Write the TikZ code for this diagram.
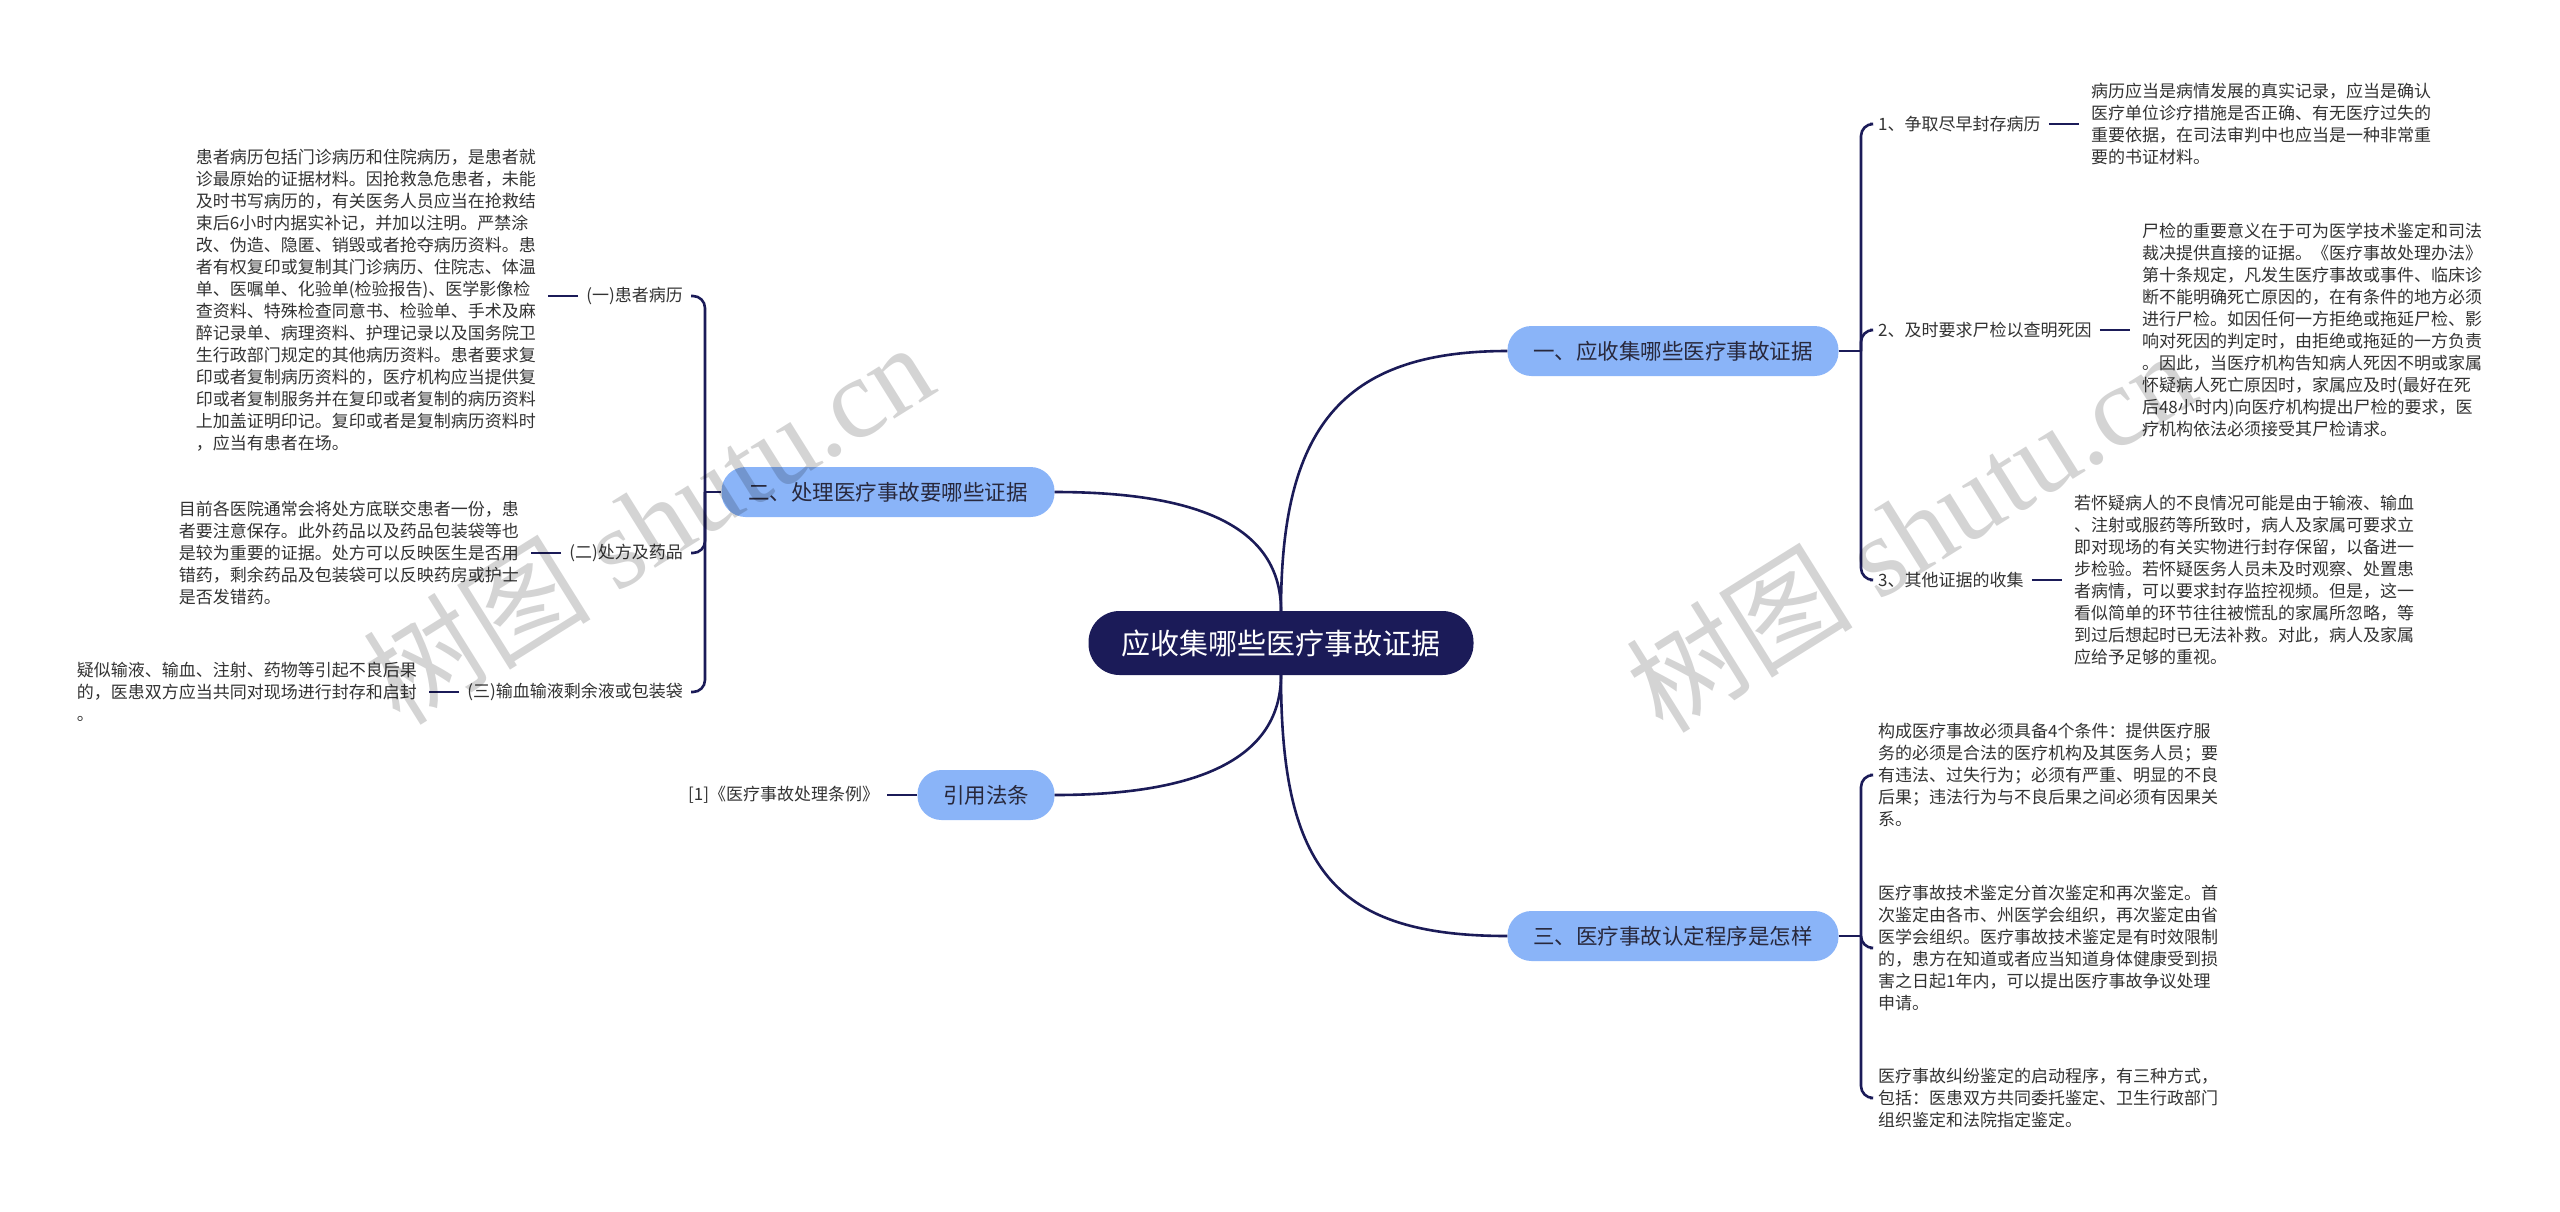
\documentclass[tikz,border=0pt]{standalone}
\usepackage{fontspec}
\setmainfont{Noto Sans CJK SC}
\newfontfamily\wmfont{Liberation Serif}
\definecolor{navy}{RGB}{27,27,88}
\definecolor{lblue}{RGB}{138,180,248}
\definecolor{txt}{RGB}{51,51,51}
\definecolor{btxt}{RGB}{40,40,60}
\tikzset{
 conn/.style={draw=navy, line width=2.6pt},
 rootbox/.style={rectangle, rounded corners=31pt, fill=navy, text=white, minimum width=385pt, minimum height=64pt, inner sep=0pt, font=\fontsize{29}{29}\selectfont},
 branchbox/.style={rectangle, rounded corners=24pt, fill=lblue, text=btxt, minimum height=50pt, inner sep=0pt, font=\fontsize{21.5}{21.5}\selectfont},
 lab/.style={inner xsep=8pt, inner ysep=2pt, text=txt, font=\fontsize{17}{22}\selectfont},
 blk/.style={align=left, inner xsep=12pt, inner ysep=2pt, text=txt, font=\fontsize{17}{22}\selectfont},
 wmark/.style={text=black, text opacity=0.17, rotate=32, font=\fontsize{114}{114}\selectfont},
}
\begin{document}
\begin{tikzpicture}[x=1pt,y=-1pt]
\useasboundingbox (0,0) rectangle (2560,1211);
\fill[white] (0,0) rectangle (2560,1211);

% root and branches
\node[rootbox] (root) at (1281,643) {应收集哪些医疗事故证据};
\node[branchbox, minimum width=331pt] (b1) at (1673,351) {一、应收集哪些医疗事故证据};
\node[branchbox, minimum width=333pt] (b2) at (888,492) {二、处理医疗事故要哪些证据};
\node[branchbox, minimum width=137pt] (b3) at (986,795) {引用法条};
\node[branchbox, minimum width=331pt] (b4) at (1673,936) {三、医疗事故认定程序是怎样};

\draw[conn] (root.north) .. controls (1281,430) and (1340,351) .. (b1.west);
\draw[conn] (root.north) .. controls (1281,525) and (1195,492) .. (b2.east);
\draw[conn] (root.south) .. controls (1281,765) and (1185,795) .. (b3.east);
\draw[conn] (root.south) .. controls (1281,870) and (1335,936) .. (b4.west);

% branch one (right, top)
\coordinate (s1) at (1861,351);
\node[lab, anchor=west] (l1) at (1870,124) {1、争取尽早封存病历};
\node[lab, anchor=west] (l2) at (1870,330) {2、及时要求尸检以查明死因};
\node[lab, anchor=west] (l3) at (1870,580) {3、其他证据的收集};
\node[blk, anchor=west] (t1) at ([xshift=30pt]l1.east) {病历应当是病情发展的真实记录，应当是确认\\医疗单位诊疗措施是否正确、有无医疗过失的\\重要依据，在司法审判中也应当是一种非常重\\要的书证材料。};
\node[blk, anchor=west] (t2) at ([xshift=30pt]l2.east) {尸检的重要意义在于可为医学技术鉴定和司法\\裁决提供直接的证据。《医疗事故处理办法》\\第十条规定，凡发生医疗事故或事件、临床诊\\断不能明确死亡原因的，在有条件的地方必须\\进行尸检。如因任何一方拒绝或拖延尸检、影\\响对死因的判定时，由拒绝或拖延的一方负责\\。因此，当医疗机构告知病人死因不明或家属\\怀疑病人死亡原因时，家属应及时(最好在死\\后48小时内)向医疗机构提出尸检的要求，医\\疗机构依法必须接受其尸检请求。};
\node[blk, anchor=west] (t3) at ([xshift=30pt]l3.east) {若怀疑病人的不良情况可能是由于输液、输血\\、注射或服药等所致时，病人及家属可要求立\\即对现场的有关实物进行封存保留，以备进一\\步检验。若怀疑医务人员未及时观察、处置患\\者病情，可以要求封存监控视频。但是，这一\\看似简单的环节往往被慌乱的家属所忽略，等\\到过后想起时已无法补救。对此，病人及家属\\应给予足够的重视。};
\draw[conn] (b1.east) -- (s1);
\draw[conn, rounded corners=12pt] (s1) |- (l1.west);
\draw[conn, rounded corners=12pt] (s1) |- (l2.west);
\draw[conn, rounded corners=12pt] (s1) |- (l3.west);
\draw[conn] (l1.east) -- (t1.west);
\draw[conn] (l2.east) -- (t2.west);
\draw[conn] (l3.east) -- (t3.west);

% branch three (right, bottom)
\coordinate (s4) at (1861,936);
\node[blk, anchor=west, inner xsep=8pt] (c1) at (1870,775) {构成医疗事故必须具备4个条件：提供医疗服\\务的必须是合法的医疗机构及其医务人员；要\\有违法、过失行为；必须有严重、明显的不良\\后果；违法行为与不良后果之间必须有因果关\\系。};
\node[blk, anchor=west, inner xsep=8pt] (c2) at (1870,948) {医疗事故技术鉴定分首次鉴定和再次鉴定。首\\次鉴定由各市、州医学会组织，再次鉴定由省\\医学会组织。医疗事故技术鉴定是有时效限制\\的，患方在知道或者应当知道身体健康受到损\\害之日起1年内，可以提出医疗事故争议处理\\申请。};
\node[blk, anchor=west, inner xsep=8pt] (c3) at (1870,1098) {医疗事故纠纷鉴定的启动程序，有三种方式，\\包括：医患双方共同委托鉴定、卫生行政部门\\组织鉴定和法院指定鉴定。};
\draw[conn] (b4.east) -- (s4);
\draw[conn, rounded corners=12pt] (s4) |- (c1.west);
\draw[conn, rounded corners=12pt] (s4) |- (c2.west);
\draw[conn, rounded corners=12pt] (s4) |- (c3.west);

% branch two (left)
\coordinate (s2) at (705,492);
\node[lab, anchor=east] (m1) at (691,296) {(一)患者病历};
\node[lab, anchor=east] (m2) at (691,553) {(二)处方及药品};
\node[lab, anchor=east] (m3) at (691,692) {(三)输血输液剩余液或包装袋};
\node[blk, anchor=east] (k1) at ([xshift=-30pt,yshift=-4pt]m1.west) {患者病历包括门诊病历和住院病历，是患者就\\诊最原始的证据材料。因抢救急危患者，未能\\及时书写病历的，有关医务人员应当在抢救结\\束后6小时内据实补记，并加以注明。严禁涂\\改、伪造、隐匿、销毁或者抢夺病历资料。患\\者有权复印或复制其门诊病历、住院志、体温\\单、医嘱单、化验单(检验报告)、医学影像检\\查资料、特殊检查同意书、检验单、手术及麻\\醉记录单、病理资料、护理记录以及国务院卫\\生行政部门规定的其他病历资料。患者要求复\\印或者复制病历资料的，医疗机构应当提供复\\印或者复制服务并在复印或者复制的病历资料\\上加盖证明印记。复印或者是复制病历资料时\\，应当有患者在场。};
\node[blk, anchor=east] (k2) at ([xshift=-30pt]m2.west) {目前各医院通常会将处方底联交患者一份，患\\者要注意保存。此外药品以及药品包装袋等也\\是较为重要的证据。处方可以反映医生是否用\\错药，剩余药品及包装袋可以反映药房或护士\\是否发错药。};
\node[blk, anchor=east] (k3) at ([xshift=-30pt]m3.west) {疑似输液、输血、注射、药物等引起不良后果\\的，医患双方应当共同对现场进行封存和启封\\。};
\draw[conn] (b2.west) -- (s2);
\draw[conn, rounded corners=12pt] (s2) |- (m1.east);
\draw[conn, rounded corners=12pt] (s2) |- (m2.east);
\draw[conn, rounded corners=12pt] (s2) |- (m3.east);
\draw[conn] (m1.west) -- (k1.east |- m1.west);
\draw[conn] (m2.west) -- (k2.east);
\draw[conn] (m3.west) -- (k3.east);

% citation
\node[lab, anchor=east] (r1) at ([xshift=-30pt]b3.west) {[1]《医疗事故处理条例》};
\draw[conn] (b3.west) -- (r1.east);

% watermarks
\node[wmark] (w1) at (648,522) {树图 {\wmfont shutu.cn}};
\node[wmark] (w2) at (1910,530) {树图 {\wmfont shutu.cn}};
\end{tikzpicture}
\end{document}
